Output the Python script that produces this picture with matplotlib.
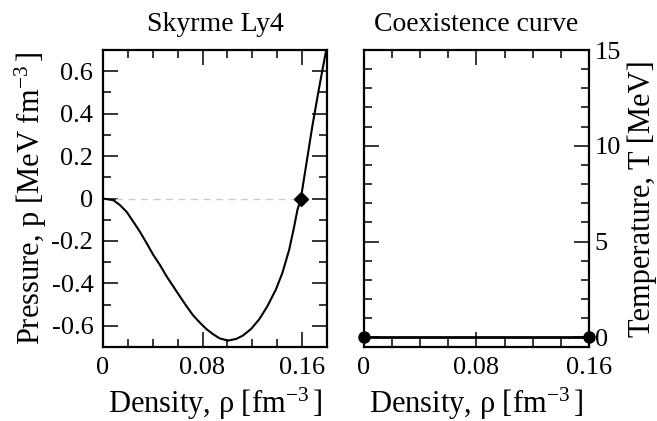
import matplotlib
matplotlib.use("Agg")
import matplotlib.pyplot as plt
from matplotlib.ticker import MultipleLocator

plt.rcParams['font.family'] = ['Liberation Serif', 'DejaVu Serif']
plt.rcParams['mathtext.fontset'] = 'custom'
plt.rcParams['mathtext.rm'] = 'Liberation Serif'
plt.rcParams['mathtext.it'] = 'Liberation Serif:italic'
plt.rcParams['font.size'] = 20

### pressure curve for Skyrme Ly4
rho = [0, 0.0083, 0.0136, 0.019, 0.0243, 0.0296, 0.035, 0.0403, 0.0456, 0.051,
       0.0563, 0.0616, 0.067, 0.0723, 0.0776, 0.083, 0.0883, 0.0936, 0.1003, 0.107,
       0.1122, 0.119, 0.1256, 0.1322, 0.139, 0.1442, 0.1496, 0.1536, 0.1562, 0.159,
       0.1682, 0.1736, 0.18]
pressure = [0, -0.008, -0.031, -0.063, -0.109, -0.156, -0.210, -0.265, -0.312, -0.366,
            -0.413, -0.460, -0.507, -0.550, -0.584, -0.615, -0.639, -0.659, -0.670, -0.662,
            -0.647, -0.615, -0.569, -0.507, -0.428, -0.350, -0.242, -0.133, -0.055, 0,
            0.340, 0.52, 0.72]
rho_sat = 0.159
p_sat = 0

### coexistence curve (T = 0 only)
coex_rho = [0, 0.16]
coex_T = [0, 0]


def style_axis(ax):
    ax.tick_params(which='both', direction='in', top=True, right=True, width=1.1)
    ax.tick_params(which='major', length=11, labelsize=19, pad=7)
    ax.tick_params(which='minor', length=6)
    for s in ax.spines.values():
        s.set_linewidth(1.6)


fig = plt.figure(figsize=(6.57, 4.21), dpi=100)
ax1 = fig.add_axes([0.1568, 0.1758, 0.3409, 0.7054])
ax2 = fig.add_axes([0.5540, 0.1758, 0.3425, 0.7054])

### left panel
ax1.plot([0, rho_sat], [0, 0], color='#cccccc', lw=1, ls=(0, (5, 4)))
ax1.plot(rho, pressure, color='black', lw=1.5)
ax1.plot(rho_sat, p_sat, marker='D', color='black', ms=7)
ax1.set_xlim(0, 0.18)
ax1.set_ylim(-0.7, 0.7)
ax1.set_xticks([0, 0.08, 0.16])
ax1.set_xticklabels(['0', '0.08', '0.16'])
ax1.xaxis.set_minor_locator(MultipleLocator(0.02))
ax1.set_yticks([-0.6, -0.4, -0.2, 0, 0.2, 0.4, 0.6])
ax1.set_yticklabels(['-0.6', '-0.4', '-0.2', '0', '0.2', '0.4', '0.6'])
ax1.yaxis.set_minor_locator(MultipleLocator(0.1))
style_axis(ax1)
ax1.set_title('Skyrme Ly4', fontsize=20, pad=14)
ax1.set_xlabel('Density, ρ [fm$^{-3}\\,$]', fontsize=22, labelpad=5)
ax1.set_ylabel('Pressure, p [MeV fm$^{-3}\\,$]', fontsize=22, labelpad=2)

### right panel
ax2.plot(coex_rho, coex_T, color='black', lw=2, marker='o', ms=8, clip_on=False)
ax2.set_xlim(0, 0.16)
ax2.set_ylim(-0.5, 15)
ax2.set_xticks([0, 0.08, 0.16])
ax2.set_xticklabels(['0', '0.08', '0.16'])
ax2.xaxis.set_minor_locator(MultipleLocator(0.02))
ax2.set_yticks([0, 5, 10, 15])
ax2.yaxis.set_minor_locator(MultipleLocator(1))
style_axis(ax2)
ax2.tick_params(axis='y', which='major', pad=4)
ax2.tick_params(labelleft=False, labelright=True)
ax2.yaxis.set_label_position('right')
ax2.set_title('Coexistence curve', fontsize=20, pad=14)
ax2.set_xlabel('Density, ρ [fm$^{-3}\\,$]', fontsize=22, labelpad=5)
ax2.set_ylabel('Temperature, T [MeV]', fontsize=22, labelpad=5)

fig.savefig('out.png', dpi=100)
